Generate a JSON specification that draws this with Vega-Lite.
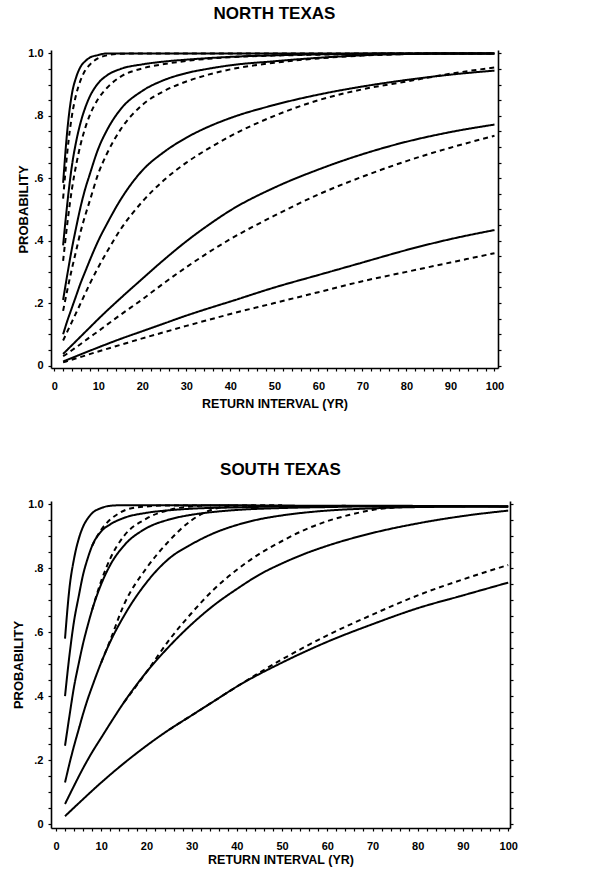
{
  "$schema": "https://vega.github.io/schema/vega-lite/v6.json",
  "padding": {"left": 12, "top": 5, "right": 5, "bottom": 4},
  "spacing": 51,
  "align": "none",
  "config": {
    "font": "Liberation Sans",
    "view": {"stroke": null},
    "axis": {"labelFont": "Liberation Sans", "labelFontWeight": "bold", "labelFontSize": 11, "labelColor": "black", "titleFont": "Liberation Sans", "titleFontWeight": "bold", "titleColor": "black", "domainColor": "black", "domainWidth": 1.6, "tickColor": "black", "tickWidth": 1.2, "grid": false, "labelOverlap": false, "labelFlush": false, "labelBound": false},
    "title": {"font": "Liberation Sans", "fontWeight": "bold", "fontSize": 17, "color": "black", "frame": "group", "anchor": "middle"},
    "line": {"color": "black", "strokeWidth": 2, "interpolate": "monotone"}
  },
  "datasets": {
    "d": [
      {"r":"N","c":"S1","t":"s","x":2,"p":0.585},{"r":"N","c":"S1","t":"s","x":3,"p":0.76},{"r":"N","c":"S1","t":"s","x":4,"p":0.87},{"r":"N","c":"S1","t":"s","x":5,"p":0.925},{"r":"N","c":"S1","t":"s","x":6,"p":0.958},{"r":"N","c":"S1","t":"s","x":7,"p":0.975},{"r":"N","c":"S1","t":"s","x":8,"p":0.986},{"r":"N","c":"S1","t":"s","x":10,"p":0.995},{"r":"N","c":"S1","t":"s","x":12,"p":1},{"r":"N","c":"S1","t":"s","x":20,"p":1},{"r":"N","c":"S1","t":"s","x":40,"p":1},{"r":"N","c":"S1","t":"s","x":60,"p":1},{"r":"N","c":"S1","t":"s","x":80,"p":1},{"r":"N","c":"S1","t":"s","x":100,"p":1},
      {"r":"N","c":"D1","t":"d","x":2,"p":0.535},{"r":"N","c":"D1","t":"d","x":3,"p":0.69},{"r":"N","c":"D1","t":"d","x":4,"p":0.8},{"r":"N","c":"D1","t":"d","x":5,"p":0.87},{"r":"N","c":"D1","t":"d","x":6,"p":0.915},{"r":"N","c":"D1","t":"d","x":7,"p":0.945},{"r":"N","c":"D1","t":"d","x":8,"p":0.963},{"r":"N","c":"D1","t":"d","x":10,"p":0.985},{"r":"N","c":"D1","t":"d","x":12,"p":0.994},{"r":"N","c":"D1","t":"d","x":15,"p":0.999},{"r":"N","c":"D1","t":"d","x":20,"p":1},{"r":"N","c":"D1","t":"d","x":40,"p":1},{"r":"N","c":"D1","t":"d","x":100,"p":1},
      {"r":"N","c":"S2","t":"s","x":2,"p":0.385},{"r":"N","c":"S2","t":"s","x":3,"p":0.525},{"r":"N","c":"S2","t":"s","x":4,"p":0.64},{"r":"N","c":"S2","t":"s","x":5,"p":0.72},{"r":"N","c":"S2","t":"s","x":6,"p":0.78},{"r":"N","c":"S2","t":"s","x":7,"p":0.825},{"r":"N","c":"S2","t":"s","x":8,"p":0.86},{"r":"N","c":"S2","t":"s","x":10,"p":0.905},{"r":"N","c":"S2","t":"s","x":12,"p":0.93},{"r":"N","c":"S2","t":"s","x":15,"p":0.95},{"r":"N","c":"S2","t":"s","x":20,"p":0.965},{"r":"N","c":"S2","t":"s","x":25,"p":0.974},{"r":"N","c":"S2","t":"s","x":30,"p":0.98},{"r":"N","c":"S2","t":"s","x":35,"p":0.985},{"r":"N","c":"S2","t":"s","x":40,"p":0.989},{"r":"N","c":"S2","t":"s","x":50,"p":0.994},{"r":"N","c":"S2","t":"s","x":60,"p":0.997},{"r":"N","c":"S2","t":"s","x":70,"p":0.999},{"r":"N","c":"S2","t":"s","x":80,"p":1},{"r":"N","c":"S2","t":"s","x":100,"p":1},
      {"r":"N","c":"D2","t":"d","x":2,"p":0.335},{"r":"N","c":"D2","t":"d","x":3,"p":0.46},{"r":"N","c":"D2","t":"d","x":4,"p":0.565},{"r":"N","c":"D2","t":"d","x":5,"p":0.645},{"r":"N","c":"D2","t":"d","x":6,"p":0.71},{"r":"N","c":"D2","t":"d","x":7,"p":0.76},{"r":"N","c":"D2","t":"d","x":8,"p":0.8},{"r":"N","c":"D2","t":"d","x":10,"p":0.855},{"r":"N","c":"D2","t":"d","x":12,"p":0.89},{"r":"N","c":"D2","t":"d","x":15,"p":0.925},{"r":"N","c":"D2","t":"d","x":20,"p":0.952},{"r":"N","c":"D2","t":"d","x":25,"p":0.966},{"r":"N","c":"D2","t":"d","x":30,"p":0.976},{"r":"N","c":"D2","t":"d","x":35,"p":0.983},{"r":"N","c":"D2","t":"d","x":40,"p":0.988},{"r":"N","c":"D2","t":"d","x":50,"p":0.993},{"r":"N","c":"D2","t":"d","x":60,"p":0.996},{"r":"N","c":"D2","t":"d","x":70,"p":0.998},{"r":"N","c":"D2","t":"d","x":80,"p":1},{"r":"N","c":"D2","t":"d","x":100,"p":1},
      {"r":"N","c":"S3","t":"s","x":2,"p":0.21},{"r":"N","c":"S3","t":"s","x":3,"p":0.295},{"r":"N","c":"S3","t":"s","x":4,"p":0.375},{"r":"N","c":"S3","t":"s","x":5,"p":0.445},{"r":"N","c":"S3","t":"s","x":6,"p":0.51},{"r":"N","c":"S3","t":"s","x":7,"p":0.565},{"r":"N","c":"S3","t":"s","x":8,"p":0.61},{"r":"N","c":"S3","t":"s","x":10,"p":0.695},{"r":"N","c":"S3","t":"s","x":12,"p":0.755},{"r":"N","c":"S3","t":"s","x":15,"p":0.82},{"r":"N","c":"S3","t":"s","x":20,"p":0.88},{"r":"N","c":"S3","t":"s","x":25,"p":0.915},{"r":"N","c":"S3","t":"s","x":30,"p":0.937},{"r":"N","c":"S3","t":"s","x":35,"p":0.951},{"r":"N","c":"S3","t":"s","x":40,"p":0.962},{"r":"N","c":"S3","t":"s","x":50,"p":0.975},{"r":"N","c":"S3","t":"s","x":60,"p":0.986},{"r":"N","c":"S3","t":"s","x":70,"p":0.994},{"r":"N","c":"S3","t":"s","x":80,"p":0.998},{"r":"N","c":"S3","t":"s","x":90,"p":1},{"r":"N","c":"S3","t":"s","x":100,"p":1},
      {"r":"N","c":"D3","t":"d","x":2,"p":0.175},{"r":"N","c":"D3","t":"d","x":3,"p":0.245},{"r":"N","c":"D3","t":"d","x":4,"p":0.31},{"r":"N","c":"D3","t":"d","x":5,"p":0.37},{"r":"N","c":"D3","t":"d","x":6,"p":0.43},{"r":"N","c":"D3","t":"d","x":7,"p":0.48},{"r":"N","c":"D3","t":"d","x":8,"p":0.525},{"r":"N","c":"D3","t":"d","x":10,"p":0.615},{"r":"N","c":"D3","t":"d","x":12,"p":0.68},{"r":"N","c":"D3","t":"d","x":15,"p":0.755},{"r":"N","c":"D3","t":"d","x":20,"p":0.835},{"r":"N","c":"D3","t":"d","x":25,"p":0.88},{"r":"N","c":"D3","t":"d","x":30,"p":0.91},{"r":"N","c":"D3","t":"d","x":35,"p":0.932},{"r":"N","c":"D3","t":"d","x":40,"p":0.949},{"r":"N","c":"D3","t":"d","x":50,"p":0.97},{"r":"N","c":"D3","t":"d","x":60,"p":0.984},{"r":"N","c":"D3","t":"d","x":70,"p":0.993},{"r":"N","c":"D3","t":"d","x":80,"p":0.998},{"r":"N","c":"D3","t":"d","x":90,"p":1},{"r":"N","c":"D3","t":"d","x":100,"p":1},
      {"r":"N","c":"S4","t":"s","x":2,"p":0.1},{"r":"N","c":"S4","t":"s","x":3,"p":0.145},{"r":"N","c":"S4","t":"s","x":4,"p":0.185},{"r":"N","c":"S4","t":"s","x":5,"p":0.225},{"r":"N","c":"S4","t":"s","x":6,"p":0.265},{"r":"N","c":"S4","t":"s","x":7,"p":0.3},{"r":"N","c":"S4","t":"s","x":8,"p":0.335},{"r":"N","c":"S4","t":"s","x":10,"p":0.4},{"r":"N","c":"S4","t":"s","x":12,"p":0.455},{"r":"N","c":"S4","t":"s","x":15,"p":0.53},{"r":"N","c":"S4","t":"s","x":20,"p":0.625},{"r":"N","c":"S4","t":"s","x":25,"p":0.685},{"r":"N","c":"S4","t":"s","x":30,"p":0.73},{"r":"N","c":"S4","t":"s","x":35,"p":0.765},{"r":"N","c":"S4","t":"s","x":40,"p":0.793},{"r":"N","c":"S4","t":"s","x":50,"p":0.835},{"r":"N","c":"S4","t":"s","x":60,"p":0.868},{"r":"N","c":"S4","t":"s","x":70,"p":0.894},{"r":"N","c":"S4","t":"s","x":80,"p":0.915},{"r":"N","c":"S4","t":"s","x":90,"p":0.932},{"r":"N","c":"S4","t":"s","x":100,"p":0.945},
      {"r":"N","c":"D4","t":"d","x":2,"p":0.08},{"r":"N","c":"D4","t":"d","x":3,"p":0.11},{"r":"N","c":"D4","t":"d","x":4,"p":0.14},{"r":"N","c":"D4","t":"d","x":5,"p":0.17},{"r":"N","c":"D4","t":"d","x":6,"p":0.2},{"r":"N","c":"D4","t":"d","x":7,"p":0.23},{"r":"N","c":"D4","t":"d","x":8,"p":0.26},{"r":"N","c":"D4","t":"d","x":10,"p":0.315},{"r":"N","c":"D4","t":"d","x":12,"p":0.365},{"r":"N","c":"D4","t":"d","x":15,"p":0.435},{"r":"N","c":"D4","t":"d","x":20,"p":0.525},{"r":"N","c":"D4","t":"d","x":25,"p":0.595},{"r":"N","c":"D4","t":"d","x":30,"p":0.65},{"r":"N","c":"D4","t":"d","x":35,"p":0.695},{"r":"N","c":"D4","t":"d","x":40,"p":0.735},{"r":"N","c":"D4","t":"d","x":50,"p":0.8},{"r":"N","c":"D4","t":"d","x":60,"p":0.85},{"r":"N","c":"D4","t":"d","x":70,"p":0.885},{"r":"N","c":"D4","t":"d","x":80,"p":0.91},{"r":"N","c":"D4","t":"d","x":90,"p":0.935},{"r":"N","c":"D4","t":"d","x":100,"p":0.955},
      {"r":"N","c":"S5","t":"s","x":2,"p":0.037},{"r":"N","c":"S5","t":"s","x":3,"p":0.051},{"r":"N","c":"S5","t":"s","x":4,"p":0.065},{"r":"N","c":"S5","t":"s","x":5,"p":0.079},{"r":"N","c":"S5","t":"s","x":6,"p":0.093},{"r":"N","c":"S5","t":"s","x":8,"p":0.121},{"r":"N","c":"S5","t":"s","x":10,"p":0.149},{"r":"N","c":"S5","t":"s","x":12,"p":0.176},{"r":"N","c":"S5","t":"s","x":15,"p":0.215},{"r":"N","c":"S5","t":"s","x":20,"p":0.278},{"r":"N","c":"S5","t":"s","x":25,"p":0.34},{"r":"N","c":"S5","t":"s","x":30,"p":0.398},{"r":"N","c":"S5","t":"s","x":35,"p":0.45},{"r":"N","c":"S5","t":"s","x":40,"p":0.497},{"r":"N","c":"S5","t":"s","x":50,"p":0.57},{"r":"N","c":"S5","t":"s","x":60,"p":0.628},{"r":"N","c":"S5","t":"s","x":70,"p":0.677},{"r":"N","c":"S5","t":"s","x":80,"p":0.717},{"r":"N","c":"S5","t":"s","x":90,"p":0.748},{"r":"N","c":"S5","t":"s","x":100,"p":0.772},
      {"r":"N","c":"D5","t":"d","x":2,"p":0.03},{"r":"N","c":"D5","t":"d","x":3,"p":0.039},{"r":"N","c":"D5","t":"d","x":4,"p":0.049},{"r":"N","c":"D5","t":"d","x":5,"p":0.059},{"r":"N","c":"D5","t":"d","x":6,"p":0.069},{"r":"N","c":"D5","t":"d","x":8,"p":0.09},{"r":"N","c":"D5","t":"d","x":10,"p":0.11},{"r":"N","c":"D5","t":"d","x":12,"p":0.131},{"r":"N","c":"D5","t":"d","x":15,"p":0.162},{"r":"N","c":"D5","t":"d","x":20,"p":0.212},{"r":"N","c":"D5","t":"d","x":25,"p":0.265},{"r":"N","c":"D5","t":"d","x":30,"p":0.315},{"r":"N","c":"D5","t":"d","x":35,"p":0.362},{"r":"N","c":"D5","t":"d","x":40,"p":0.405},{"r":"N","c":"D5","t":"d","x":50,"p":0.48},{"r":"N","c":"D5","t":"d","x":60,"p":0.548},{"r":"N","c":"D5","t":"d","x":70,"p":0.605},{"r":"N","c":"D5","t":"d","x":80,"p":0.655},{"r":"N","c":"D5","t":"d","x":90,"p":0.698},{"r":"N","c":"D5","t":"d","x":100,"p":0.736},
      {"r":"N","c":"S6","t":"s","x":2,"p":0.013},{"r":"N","c":"S6","t":"s","x":5,"p":0.03},{"r":"N","c":"S6","t":"s","x":10,"p":0.058},{"r":"N","c":"S6","t":"s","x":15,"p":0.085},{"r":"N","c":"S6","t":"s","x":20,"p":0.11},{"r":"N","c":"S6","t":"s","x":25,"p":0.135},{"r":"N","c":"S6","t":"s","x":30,"p":0.16},{"r":"N","c":"S6","t":"s","x":35,"p":0.183},{"r":"N","c":"S6","t":"s","x":40,"p":0.205},{"r":"N","c":"S6","t":"s","x":50,"p":0.25},{"r":"N","c":"S6","t":"s","x":60,"p":0.29},{"r":"N","c":"S6","t":"s","x":70,"p":0.33},{"r":"N","c":"S6","t":"s","x":80,"p":0.37},{"r":"N","c":"S6","t":"s","x":90,"p":0.405},{"r":"N","c":"S6","t":"s","x":100,"p":0.434},
      {"r":"N","c":"D6","t":"d","x":2,"p":0.01},{"r":"N","c":"D6","t":"d","x":5,"p":0.023},{"r":"N","c":"D6","t":"d","x":10,"p":0.045},{"r":"N","c":"D6","t":"d","x":15,"p":0.066},{"r":"N","c":"D6","t":"d","x":20,"p":0.087},{"r":"N","c":"D6","t":"d","x":25,"p":0.107},{"r":"N","c":"D6","t":"d","x":30,"p":0.127},{"r":"N","c":"D6","t":"d","x":35,"p":0.146},{"r":"N","c":"D6","t":"d","x":40,"p":0.165},{"r":"N","c":"D6","t":"d","x":50,"p":0.2},{"r":"N","c":"D6","t":"d","x":60,"p":0.235},{"r":"N","c":"D6","t":"d","x":70,"p":0.27},{"r":"N","c":"D6","t":"d","x":80,"p":0.3},{"r":"N","c":"D6","t":"d","x":90,"p":0.33},{"r":"N","c":"D6","t":"d","x":100,"p":0.36},

      {"r":"S","c":"S1","t":"s","x":2,"p":0.58},{"r":"S","c":"S1","t":"s","x":3,"p":0.74},{"r":"S","c":"S1","t":"s","x":4,"p":0.83},{"r":"S","c":"S1","t":"s","x":5,"p":0.89},{"r":"S","c":"S1","t":"s","x":6,"p":0.93},{"r":"S","c":"S1","t":"s","x":7,"p":0.955},{"r":"S","c":"S1","t":"s","x":8,"p":0.972},{"r":"S","c":"S1","t":"s","x":10,"p":0.988},{"r":"S","c":"S1","t":"s","x":12,"p":0.995},{"r":"S","c":"S1","t":"s","x":15,"p":0.997},{"r":"S","c":"S1","t":"s","x":30,"p":0.997},{"r":"S","c":"S1","t":"s","x":60,"p":0.995},{"r":"S","c":"S1","t":"s","x":100,"p":0.993},
      {"r":"S","c":"S2","t":"s","x":2,"p":0.4},{"r":"S","c":"S2","t":"s","x":3,"p":0.53},{"r":"S","c":"S2","t":"s","x":4,"p":0.635},{"r":"S","c":"S2","t":"s","x":5,"p":0.71},{"r":"S","c":"S2","t":"s","x":6,"p":0.78},{"r":"S","c":"S2","t":"s","x":7,"p":0.83},{"r":"S","c":"S2","t":"s","x":8,"p":0.87},{"r":"S","c":"S2","t":"s","x":10,"p":0.915},{"r":"S","c":"S2","t":"s","x":12,"p":0.937},{"r":"S","c":"S2","t":"s","x":15,"p":0.957},{"r":"S","c":"S2","t":"s","x":20,"p":0.973},{"r":"S","c":"S2","t":"s","x":25,"p":0.981},{"r":"S","c":"S2","t":"s","x":30,"p":0.986},{"r":"S","c":"S2","t":"s","x":40,"p":0.99},{"r":"S","c":"S2","t":"s","x":50,"p":0.993},{"r":"S","c":"S2","t":"s","x":70,"p":0.995},{"r":"S","c":"S2","t":"s","x":100,"p":0.993},
      {"r":"S","c":"D2","t":"d","x":8,"p":0.87},{"r":"S","c":"D2","t":"d","x":10,"p":0.92},{"r":"S","c":"D2","t":"d","x":12,"p":0.952},{"r":"S","c":"D2","t":"d","x":14,"p":0.972},{"r":"S","c":"D2","t":"d","x":16,"p":0.985},{"r":"S","c":"D2","t":"d","x":20,"p":0.993},{"r":"S","c":"D2","t":"d","x":25,"p":0.996},{"r":"S","c":"D2","t":"d","x":40,"p":0.996},
      {"r":"S","c":"S3","t":"s","x":2,"p":0.245},{"r":"S","c":"S3","t":"s","x":3,"p":0.34},{"r":"S","c":"S3","t":"s","x":4,"p":0.43},{"r":"S","c":"S3","t":"s","x":5,"p":0.5},{"r":"S","c":"S3","t":"s","x":6,"p":0.565},{"r":"S","c":"S3","t":"s","x":7,"p":0.62},{"r":"S","c":"S3","t":"s","x":8,"p":0.67},{"r":"S","c":"S3","t":"s","x":10,"p":0.75},{"r":"S","c":"S3","t":"s","x":12,"p":0.81},{"r":"S","c":"S3","t":"s","x":15,"p":0.87},{"r":"S","c":"S3","t":"s","x":20,"p":0.925},{"r":"S","c":"S3","t":"s","x":25,"p":0.952},{"r":"S","c":"S3","t":"s","x":30,"p":0.967},{"r":"S","c":"S3","t":"s","x":35,"p":0.976},{"r":"S","c":"S3","t":"s","x":40,"p":0.982},{"r":"S","c":"S3","t":"s","x":50,"p":0.988},{"r":"S","c":"S3","t":"s","x":60,"p":0.991},{"r":"S","c":"S3","t":"s","x":70,"p":0.993},{"r":"S","c":"S3","t":"s","x":100,"p":0.993},
      {"r":"S","c":"D3","t":"d","x":8,"p":0.67},{"r":"S","c":"D3","t":"d","x":10,"p":0.76},{"r":"S","c":"D3","t":"d","x":12,"p":0.83},{"r":"S","c":"D3","t":"d","x":15,"p":0.9},{"r":"S","c":"D3","t":"d","x":20,"p":0.955},{"r":"S","c":"D3","t":"d","x":25,"p":0.982},{"r":"S","c":"D3","t":"d","x":30,"p":0.993},{"r":"S","c":"D3","t":"d","x":35,"p":0.996},{"r":"S","c":"D3","t":"d","x":50,"p":0.996},
      {"r":"S","c":"S4","t":"s","x":2,"p":0.13},{"r":"S","c":"S4","t":"s","x":3,"p":0.19},{"r":"S","c":"S4","t":"s","x":4,"p":0.245},{"r":"S","c":"S4","t":"s","x":5,"p":0.295},{"r":"S","c":"S4","t":"s","x":6,"p":0.345},{"r":"S","c":"S4","t":"s","x":7,"p":0.39},{"r":"S","c":"S4","t":"s","x":8,"p":0.43},{"r":"S","c":"S4","t":"s","x":10,"p":0.505},{"r":"S","c":"S4","t":"s","x":12,"p":0.57},{"r":"S","c":"S4","t":"s","x":15,"p":0.65},{"r":"S","c":"S4","t":"s","x":20,"p":0.755},{"r":"S","c":"S4","t":"s","x":25,"p":0.83},{"r":"S","c":"S4","t":"s","x":30,"p":0.875},{"r":"S","c":"S4","t":"s","x":35,"p":0.91},{"r":"S","c":"S4","t":"s","x":40,"p":0.935},{"r":"S","c":"S4","t":"s","x":45,"p":0.953},{"r":"S","c":"S4","t":"s","x":50,"p":0.965},{"r":"S","c":"S4","t":"s","x":60,"p":0.98},{"r":"S","c":"S4","t":"s","x":70,"p":0.987},{"r":"S","c":"S4","t":"s","x":80,"p":0.991},{"r":"S","c":"S4","t":"s","x":100,"p":0.993},
      {"r":"S","c":"D4","t":"d","x":10,"p":0.505},{"r":"S","c":"D4","t":"d","x":12,"p":0.575},{"r":"S","c":"D4","t":"d","x":15,"p":0.685},{"r":"S","c":"D4","t":"d","x":20,"p":0.8},{"r":"S","c":"D4","t":"d","x":25,"p":0.885},{"r":"S","c":"D4","t":"d","x":30,"p":0.95},{"r":"S","c":"D4","t":"d","x":35,"p":0.985},{"r":"S","c":"D4","t":"d","x":40,"p":0.995},{"r":"S","c":"D4","t":"d","x":50,"p":0.996},
      {"r":"S","c":"S5","t":"s","x":2,"p":0.063},{"r":"S","c":"S5","t":"s","x":4,"p":0.12},{"r":"S","c":"S5","t":"s","x":6,"p":0.175},{"r":"S","c":"S5","t":"s","x":8,"p":0.225},{"r":"S","c":"S5","t":"s","x":10,"p":0.27},{"r":"S","c":"S5","t":"s","x":12,"p":0.315},{"r":"S","c":"S5","t":"s","x":15,"p":0.38},{"r":"S","c":"S5","t":"s","x":20,"p":0.475},{"r":"S","c":"S5","t":"s","x":25,"p":0.555},{"r":"S","c":"S5","t":"s","x":30,"p":0.625},{"r":"S","c":"S5","t":"s","x":35,"p":0.685},{"r":"S","c":"S5","t":"s","x":40,"p":0.735},{"r":"S","c":"S5","t":"s","x":45,"p":0.78},{"r":"S","c":"S5","t":"s","x":50,"p":0.815},{"r":"S","c":"S5","t":"s","x":55,"p":0.845},{"r":"S","c":"S5","t":"s","x":60,"p":0.87},{"r":"S","c":"S5","t":"s","x":70,"p":0.91},{"r":"S","c":"S5","t":"s","x":80,"p":0.94},{"r":"S","c":"S5","t":"s","x":90,"p":0.963},{"r":"S","c":"S5","t":"s","x":100,"p":0.98},
      {"r":"S","c":"D5","t":"d","x":15,"p":0.38},{"r":"S","c":"D5","t":"d","x":20,"p":0.475},{"r":"S","c":"D5","t":"d","x":25,"p":0.575},{"r":"S","c":"D5","t":"d","x":30,"p":0.66},{"r":"S","c":"D5","t":"d","x":35,"p":0.735},{"r":"S","c":"D5","t":"d","x":40,"p":0.795},{"r":"S","c":"D5","t":"d","x":45,"p":0.845},{"r":"S","c":"D5","t":"d","x":50,"p":0.885},{"r":"S","c":"D5","t":"d","x":55,"p":0.92},{"r":"S","c":"D5","t":"d","x":60,"p":0.947},{"r":"S","c":"D5","t":"d","x":65,"p":0.967},{"r":"S","c":"D5","t":"d","x":70,"p":0.982},{"r":"S","c":"D5","t":"d","x":75,"p":0.99},{"r":"S","c":"D5","t":"d","x":80,"p":0.994},
      {"r":"S","c":"S6","t":"s","x":2,"p":0.025},{"r":"S","c":"S6","t":"s","x":5,"p":0.065},{"r":"S","c":"S6","t":"s","x":10,"p":0.13},{"r":"S","c":"S6","t":"s","x":15,"p":0.19},{"r":"S","c":"S6","t":"s","x":20,"p":0.245},{"r":"S","c":"S6","t":"s","x":25,"p":0.295},{"r":"S","c":"S6","t":"s","x":30,"p":0.34},{"r":"S","c":"S6","t":"s","x":35,"p":0.385},{"r":"S","c":"S6","t":"s","x":40,"p":0.43},{"r":"S","c":"S6","t":"s","x":50,"p":0.505},{"r":"S","c":"S6","t":"s","x":60,"p":0.57},{"r":"S","c":"S6","t":"s","x":70,"p":0.625},{"r":"S","c":"S6","t":"s","x":80,"p":0.675},{"r":"S","c":"S6","t":"s","x":90,"p":0.715},{"r":"S","c":"S6","t":"s","x":100,"p":0.755},
      {"r":"S","c":"D6","t":"d","x":25,"p":0.295},{"r":"S","c":"D6","t":"d","x":30,"p":0.34},{"r":"S","c":"D6","t":"d","x":35,"p":0.385},{"r":"S","c":"D6","t":"d","x":40,"p":0.43},{"r":"S","c":"D6","t":"d","x":50,"p":0.515},{"r":"S","c":"D6","t":"d","x":60,"p":0.59},{"r":"S","c":"D6","t":"d","x":70,"p":0.655},{"r":"S","c":"D6","t":"d","x":80,"p":0.715},{"r":"S","c":"D6","t":"d","x":90,"p":0.765},{"r":"S","c":"D6","t":"d","x":100,"p":0.81}
    ]
  },
  "vconcat": [
    {
      "title": {"text": "NORTH TEXAS", "offset": 24},
      "width": 447,
      "height": 318,
      "data": {"name": "d"},
      "transform": [{"filter": "datum.r == 'N'"}],
      "layer": [
        {
          "mark": {"type": "line"},
          "encoding": {
            "x": {"field": "x", "type": "quantitative", "scale": {"domain": [-0.75, 100.8], "nice": false, "zero": false},
              "axis": {"title": "RETURN INTERVAL (YR)", "titleFontSize": 12.5, "titlePadding": 6, "values": [0,2,4,6,8,10,12,14,16,18,20,22,24,26,28,30,32,34,36,38,40,42,44,46,48,50,52,54,56,58,60,62,64,66,68,70,72,74,76,78,80,82,84,86,88,90,92,94,96,98,100], "labelExpr": "datum.value % 10 === 0 ? datum.label : ''", "tickSize": 3, "labelPadding": 9}},
            "y": {"field": "p", "type": "quantitative", "scale": {"domain": [-0.008, 1.011], "nice": false, "zero": false},
              "axis": {"title": "PROBABILITY", "titleFontSize": 13, "titlePadding": -3, "values": [0,0.05,0.1,0.15,0.2,0.25,0.3,0.35,0.4,0.45,0.5,0.55,0.6,0.65,0.7,0.75,0.8,0.85,0.9,0.95,1], "labelExpr": "datum.value == 0 ? '0' : datum.value == 1 ? '1.0' : (abs(datum.value * 5 - round(datum.value * 5)) < 0.001 ? replace(format(datum.value, '.1f'), '0.', '.') : '')", "tickSize": 3, "labelPadding": 5}},
            "detail": {"field": "c"},
            "strokeDash": {"field": "t", "type": "nominal", "scale": {"domain": ["s", "d"], "range": [[1, 0], [5, 4]]}, "legend": null}
          }
        },
        {
          "mark": {"type": "rule", "opacity": 0},
          "encoding": {
            "y": {"datum": 0.5, "type": "quantitative", "axis": {"orient": "right", "title": null, "labels": false, "values": [0,0.05,0.1,0.15,0.2,0.25,0.3,0.35,0.4,0.45,0.5,0.55,0.6,0.65,0.7,0.75,0.8,0.85,0.9,0.95,1], "tickSize": 3}}
          }
        }
      ],
      "resolve": {"axis": {"y": "independent"}}
    },
    {
      "title": {"text": "SOUTH TEXAS", "offset": 19},
      "width": 459,
      "height": 327,
      "data": {"name": "d"},
      "transform": [{"filter": "datum.r == 'S'"}],
      "layer": [
        {
          "mark": {"type": "line"},
          "encoding": {
            "x": {"field": "x", "type": "quantitative", "scale": {"domain": [-1.1, 100.4], "nice": false, "zero": false},
              "axis": {"title": "RETURN INTERVAL (YR)", "titleFontSize": 12.5, "titlePadding": 2, "values": [0,2,4,6,8,10,12,14,16,18,20,22,24,26,28,30,32,34,36,38,40,42,44,46,48,50,52,54,56,58,60,62,64,66,68,70,72,74,76,78,80,82,84,86,88,90,92,94,96,98,100], "labelExpr": "datum.value % 10 === 0 ? datum.label : ''", "tickSize": 3, "labelPadding": 9}},
            "y": {"field": "p", "type": "quantitative", "scale": {"domain": [-0.012, 1.01], "nice": false, "zero": false},
              "axis": {"title": "PROBABILITY", "titleFontSize": 13, "titlePadding": 2, "values": [0,0.05,0.1,0.15,0.2,0.25,0.3,0.35,0.4,0.45,0.5,0.55,0.6,0.65,0.7,0.75,0.8,0.85,0.9,0.95,1], "labelExpr": "datum.value == 0 ? '0' : datum.value == 1 ? '1.0' : (abs(datum.value * 5 - round(datum.value * 5)) < 0.001 ? replace(format(datum.value, '.1f'), '0.', '.') : '')", "tickSize": 3, "labelPadding": 5}},
            "detail": {"field": "c"},
            "strokeDash": {"field": "t", "type": "nominal", "scale": {"domain": ["s", "d"], "range": [[1, 0], [5, 4]]}, "legend": null}
          }
        },
        {
          "mark": {"type": "rule", "opacity": 0},
          "encoding": {
            "y": {"datum": 0.5, "type": "quantitative", "axis": {"orient": "right", "title": null, "labels": false, "values": [0,0.05,0.1,0.15,0.2,0.25,0.3,0.35,0.4,0.45,0.5,0.55,0.6,0.65,0.7,0.75,0.8,0.85,0.9,0.95,1], "tickSize": 3}}
          }
        }
      ],
      "resolve": {"axis": {"y": "independent"}}
    }
  ]
}
